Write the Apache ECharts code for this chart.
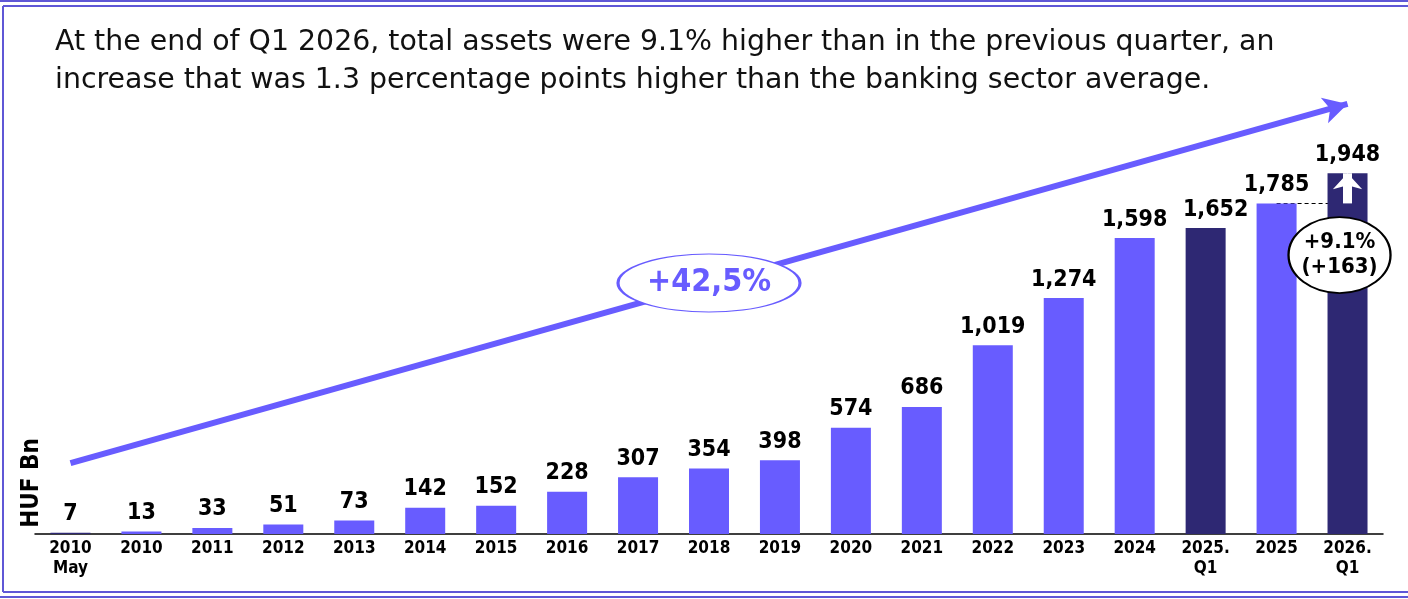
<!DOCTYPE html>
<html><head><meta charset="utf-8">
<script src="https://cdn.jsdelivr.net/npm/echarts@6/dist/echarts.min.js"></script>
<style>html,body{margin:0;padding:0;background:#fff}#c{width:1408px;height:599px}</style>
</head><body><div id="c"></div>
<script>
// ---- data ----
const categories = ['2010\nMay','2010','2011','2012','2013','2014','2015','2016','2017','2018','2019','2020','2021','2022','2023','2024','2025.\nQ1','2025','2026.\nQ1'];
const totalAssets = [7,13,33,51,73,142,152,228,307,354,398,574,686,1019,1274,1598,1652,1785,1948];
const darkBars = ['2010\nMay','2025.\nQ1','2026.\nQ1'];
const titleLines = [
  'At the end of Q1 2026, total assets were 9.1% higher than in the previous quarter, an',
  'increase that was 1.3 percentage points higher than the banking sector average.'
];
const unitLabel = 'HUF Bn';
const trendStartEnd = [383, 2322];      // trend arrow values at first / last category
const trendLabel = '+42,5%';
const trendLabelAt = [9, 1355];
const growthLabel = '+9.1%\n(+163)';
const growthLabelAt = [18, 1506];
const growthFrom = 1785, growthTo = 1948;

// ---- styles ----
const LIGHT = '#685CFF', DARK = '#2E2873', FRAME = '#5F57D6';
const COND = '"DejaVu Sans Condensed","DejaVu Sans",sans-serif';

const chart = echarts.init(document.getElementById('c'));
const last = categories.length - 1;
chart.setOption({
  animation: false,
  title: {
    text: titleLines.join('\n'), left: 55, top: 23, padding: 0,
    textStyle: {fontFamily: '"DejaVu Sans",sans-serif', fontSize: 28.4, fontWeight: 'normal', color: '#111', lineHeight: 38.5}
  },
  grid: {left: 35, right: 25, top: 71, bottom: 65},
  xAxis: {
    type: 'category', data: categories,
    axisLine: {lineStyle: {color: '#000', width: 1.5}},
    axisTick: {show: false},
    axisLabel: {interval: 0, margin: 5, fontFamily: COND, fontWeight: 'bold', fontSize: 17, color: '#000', lineHeight: 20}
  },
  yAxis: {type: 'value', min: 0, max: 2500, show: false, splitLine: {show: false}},
  series: [
    {
      type: 'bar', z: 2, barWidth: 40,
      data: totalAssets.map((v, i) => ({
        value: v,
        itemStyle: {color: darkBars.includes(categories[i]) ? DARK : LIGHT},
        label: categories[i] === '2025.\nQ1' ? {offset: [10, 0]} : undefined
      })),
      label: {
        show: true, position: 'top', distance: 7,
        fontFamily: COND, fontWeight: 'bold', fontSize: 23, color: '#000',
        formatter: p => p.value.toLocaleString('en-US')
      },
      markLine: {
        silent: true, z: 5, animation: false,
        label: {show: false},
        data: [
          [
            {coord: [0, trendStartEnd[0]], symbol: 'none', lineStyle: {color: LIGHT, width: 6, type: 'solid'}},
            {coord: [last, trendStartEnd[1]], symbol: 'arrow', symbolSize: [20, 24]}
          ],
          [
            {coord: [last, growthFrom], symbol: 'none', lineStyle: {color: '#fff', width: 9, type: 'solid'}},
            {coord: [last, growthTo], symbol: 'arrow', symbolSize: [22, 16]}
          ]
        ]
      },
      markPoint: {
        silent: true, z: 6, animation: false,
        data: [
          {
            coord: trendLabelAt, symbol: 'circle', symbolSize: [182, 58],
            itemStyle: {color: '#fff', borderColor: LIGHT, borderWidth: 1.8},
            label: {show: true, position: 'inside', formatter: trendLabel, fontFamily: COND, fontWeight: 'bold', fontSize: 32, color: LIGHT}
          },
          {
            coord: growthLabelAt, symbol: 'circle', symbolSize: [102, 76], symbolOffset: [-8, 0],
            itemStyle: {color: '#fff', borderColor: '#000', borderWidth: 2},
            label: {show: true, position: 'inside', formatter: growthLabel, fontFamily: COND, fontWeight: 'bold', fontSize: 22, color: '#000', lineHeight: 25}
          }
        ]
      }
    },
    {
      type: 'line', z: 1, silent: true, symbol: 'none',
      data: totalAssets, lineStyle: {opacity: 0, width: 0},
      markLine: {
        silent: true, z: 1, animation: false, symbol: 'none',
        label: {show: false},
        lineStyle: {color: '#000', width: 1, type: [4, 3]},
        data: [[{coord: [last - 1, growthFrom]}, {coord: [last, growthFrom]}]]
      }
    }
  ],
  graphic: [
    {type: 'line', shape: {x1: 0, y1: 1, x2: 1408, y2: 1}, style: {stroke: FRAME, lineWidth: 2}},
    {type: 'line', shape: {x1: 3, y1: 6, x2: 1408, y2: 6}, style: {stroke: FRAME, lineWidth: 2}},
    {type: 'line', shape: {x1: 3, y1: 592, x2: 1408, y2: 592}, style: {stroke: FRAME, lineWidth: 2}},
    {type: 'line', shape: {x1: 0, y1: 597, x2: 1408, y2: 597}, style: {stroke: FRAME, lineWidth: 2}},
    {type: 'line', shape: {x1: 3, y1: 6, x2: 3, y2: 592}, style: {stroke: FRAME, lineWidth: 2}},
    {
      type: 'text', x: 32, y: 483, rotation: Math.PI / 2,
      style: {text: unitLabel, font: 'bold 24px ' + COND, fill: '#000', textAlign: 'center', textVerticalAlign: 'middle'}
    }
  ]
});
</script></body></html>
